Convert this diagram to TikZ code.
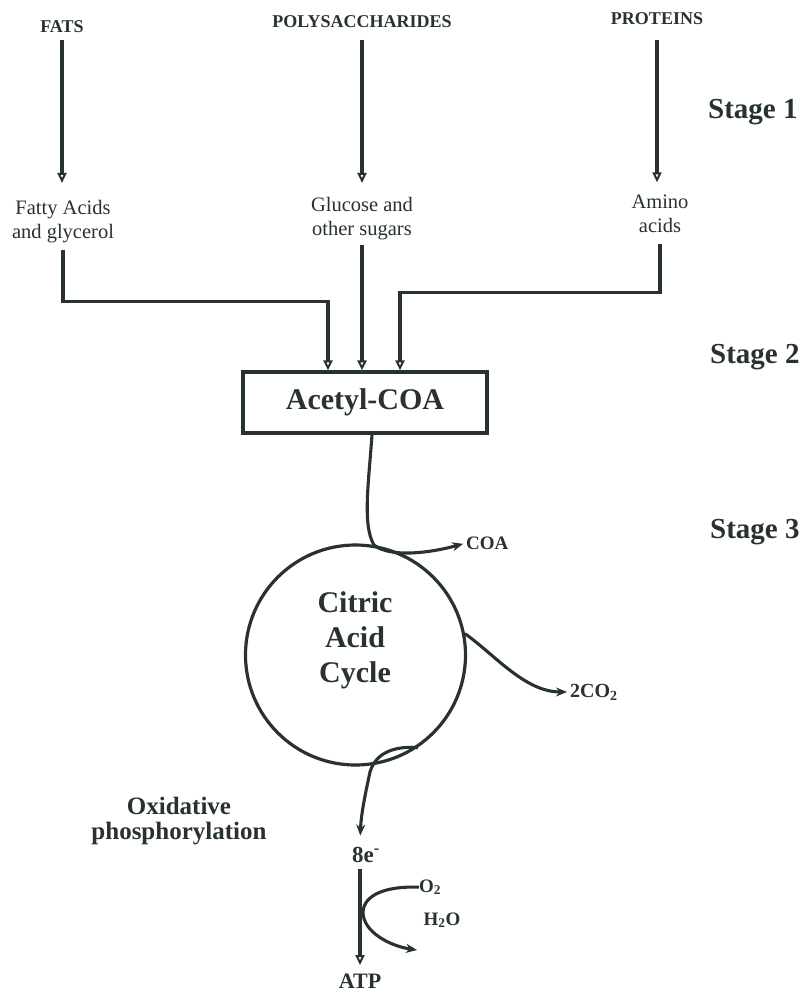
\documentclass[tikz,border=0pt]{standalone}
\usepackage{fontspec}
\setmainfont{Liberation Serif}
\usetikzlibrary{arrows.meta,calc}
\definecolor{ink}{RGB}{40,50,47}
\begin{document}
\begin{tikzpicture}[x=1pt,y=-1pt,
  every node/.style={text=ink, inner sep=0pt},
  lbl/.style={font=\fontsize{20.5}{24}\selectfont, align=center},
  toplbl/.style={font=\bfseries\fontsize{18}{22}\selectfont},
  stg/.style={font=\bfseries\fontsize{29}{32}\selectfont, anchor=west},
  lab/.style={font=\bfseries\fontsize{19}{22}\selectfont},
  ln/.style={draw=ink, line width=3.1pt},
  arr/.style={ln, -{Triangle[open, length=10pt, width=9pt, line width=2pt]}},
  carr/.style={ln, -{Stealth[length=11pt, width=9pt]}},
]
\fill[white] (0,0) rectangle (807,993);
\useasboundingbox (0,0) rectangle (807,993);

% sources
\node[toplbl] (fats) at (62,26.5) {FATS};
\node[toplbl] (poly) at (362,21.5) {POLYSACCHARIDES};
\node[toplbl] (prot) at (657,19) {PROTEINS};

% stage labels
\node[stg] (st1) at (708,112) {Stage 1};
\node[stg] (st2) at (710,357) {Stage 2};
\node[stg] (st3) at (710,532) {Stage 3};

% products of stage 1
\node[lbl] (fa) at (63,221.5) {Fatty Acids\\and glycerol};
\node[lbl] (glu) at (362,218.5) {Glucose and\\other sugars};
\node[lbl] (amino) at (660,214) {Amino\\acids};

% acetyl-CoA
\node[draw=ink, line width=3.2pt, minimum width=244pt, minimum height=61pt,
      font=\bfseries\fontsize{30}{36}\selectfont] (acetyl) at (365,402.5) {Acetyl-COA};

% citric acid cycle
\node[circle, draw=ink, line width=3.2pt, minimum size=220pt] (cac) at (355.5,655) {};
\node[font=\bfseries\fontsize{30}{35}\selectfont, align=center] (cactext) at (355,640) {Citric\\Acid\\Cycle};

\node[lab, anchor=west] (coa) at (466,543) {COA};
\node[font=\bfseries\fontsize{20}{22}\selectfont, anchor=base west] (co2) at (570,697) {2CO\textsubscript{2}};

\node[font=\bfseries\fontsize{25}{25}\selectfont, align=center] (oxid) at (179,821.5) {Oxidative\\phosphorylation};
\node[font=\bfseries\fontsize{23}{26}\selectfont] (e8) at (366,854.5) {8e\textsuperscript{-}};
\node[lab, anchor=base west] (o2) at (419,892) {O\textsubscript{2}};
\node[lab, anchor=base] (h2o) at (442,925) {H\textsubscript{2}O};
\node[font=\bfseries\fontsize{22}{26}\selectfont] (atp) at (360,981) {ATP};
\coordinate (h2oend) at (417,950);

% stage 1 arrows
\draw[arr, shorten <=7pt, shorten >=17pt] (fats.south) -- (fats.south |- fa.north);
\draw[arr, shorten <=12pt, shorten >=14pt] (poly.south) -- (poly.south |- glu.north);
\draw[arr, shorten <=15pt, shorten >=12.6pt] (prot.south) -- (prot.south |- amino.north);

% stage 2 connectors
\draw[arr, shorten <=6.5pt] (fa.south) |- ([xshift=-37pt,yshift=69pt]acetyl.north) -- ([xshift=-37pt]acetyl.north);
\draw[arr, shorten <=5pt] (glu.south) -- (glu.south |- acetyl.north);
\draw[arr, shorten <=11pt] (amino.south) |- ([xshift=35pt,yshift=78pt]acetyl.north) -- ([xshift=35pt]acetyl.north);

% acetyl to cycle, COA out
\draw[carr, shorten >=3pt] ([xshift=7pt]acetyl.south) .. controls (369,480) and (362,525) .. (374,545) .. controls (390,558) and (430,553) .. (coa.west);

% CO2 out
\draw[carr, shorten >=3pt] (cac.11) .. controls (495,655) and (525,692) .. (co2.west);

% electrons out
\draw[carr, shorten >=11pt] (cac.-56) .. controls (395,746) and (376,752) .. (370,772) .. controls (365,795) and (361,815) .. ([xshift=-6pt]e8.north);

% oxidative phosphorylation
\draw[arr, shorten <=7pt, shorten >=8.5pt] ([xshift=-6pt]e8.south) -- (atp.north);
\draw[carr] (o2.west) .. controls (385,886) and (364,895) .. (363,912) .. controls (363,932) and (390,946) .. (h2oend);
\end{tikzpicture}
\end{document}
